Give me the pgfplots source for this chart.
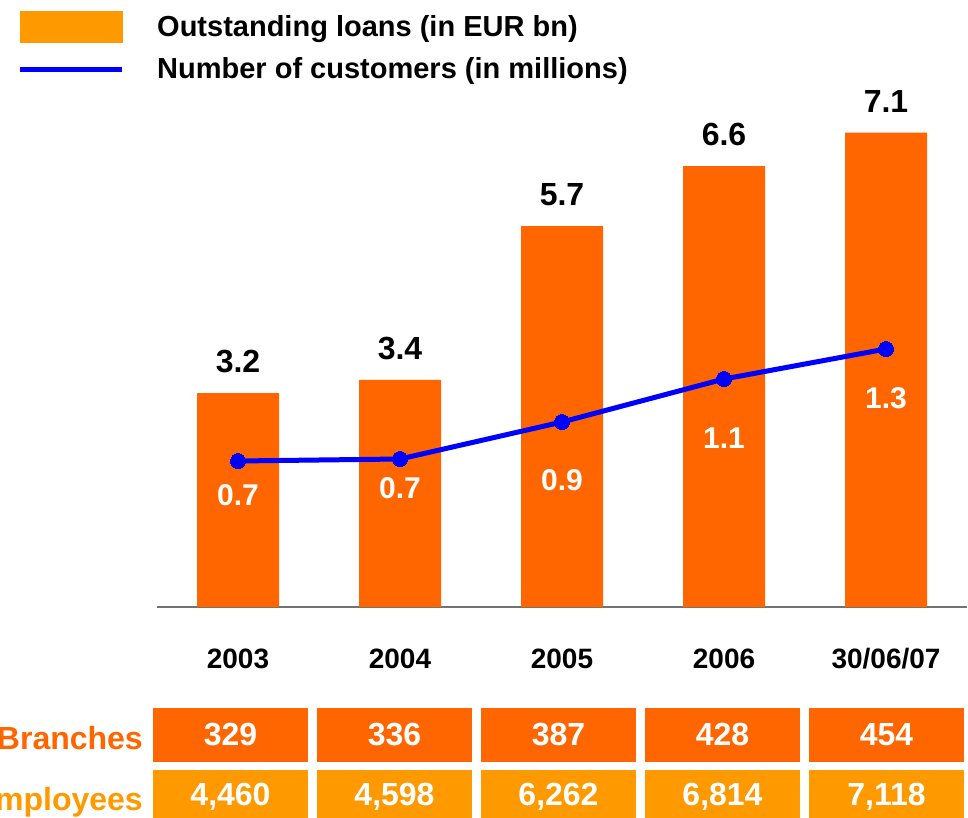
\documentclass[border=0pt]{standalone}
\usepackage{pgfplots}
\pgfplotsset{compat=1.18}
\usepackage{pgfplotstable}
\usepackage{fontspec}
\setmainfont{Liberation Sans}
\definecolor{barorange}{HTML}{FF6600}
\definecolor{lightorange}{HTML}{FF9900}
\definecolor{lineblue}{HTML}{0000FF}

\pgfplotstableread{
x loans
0 3.2
1 3.4
2 5.7
3 6.6
4 7.1
}\loans

\pgfplotstableread{
x cust label sh
0 0.73 0.7 34
1 0.74 0.7 29
2 0.925 0.9 58
3 1.14 1.1 59
4 1.29 1.3 49
}\cust

% table cells: x and y in pt from the axis origin
\pgfplotstableread{
x yb branches ye employees
73.5 -127.5 329 -189.5 4,460
237.5 -127.5 336 -189.5 4,598
401.5 -127.5 387 -189.5 6,262
565.5 -127.5 428 -189.5 6,814
729.5 -127.5 454 -189.5 7,118
}\tab

\pgfplotsset{common/.style={
  at={(0pt,0pt)}, anchor=south west,
  width=810pt, height=534.4pt, scale only axis,
  xmin=-0.5, xmax=4.5, clip=false}}

\begin{document}
\begin{tikzpicture}
\useasboundingbox (-157pt,-210pt) rectangle (811pt,607pt);

% bars
\begin{axis}[common, ymin=0, ymax=8,
  axis y line=none, axis x line*=bottom,
  x axis line style={draw=black!55, line width=1.5pt},
  xtick={0,1,2,3,4},
  xticklabels={2003,2004,2005,2006,30/06/07},
  major tick length=0pt, xtick style={draw=none},
  xticklabel style={font=\bfseries\fontsize{28}{28}\selectfont, anchor=base, yshift=-61pt, inner sep=0pt},
  ytick=\empty]
\addplot[ybar, bar width=82pt, fill=barorange, draw=none,
  nodes near coords={\pgfmathprintnumber[fixed,precision=1,fixed zerofill,assume math mode=true]{\pgfplotspointmeta}},
  point meta=y,
  every node near coord/.append style={anchor=south, inner sep=0pt, yshift=20pt, text=black, font=\bfseries\fontsize{32}{32}\selectfont}]
  table[x=x,y=loans]{\loans};
\end{axis}

% customers line
\begin{axis}[common, ymin=0, ymax=2.672, hide axis]
\addplot[lineblue, line width=5pt, mark=*, mark size=7.5pt,
  mark options={line width=0pt, fill=lineblue, draw=lineblue},
  visualization depends on={\thisrow{sh}\as\mysh},
  nodes near coords, point meta=explicit symbolic,
  every node near coord/.append style={anchor=center, inner sep=0pt, yshift={-1pt*\mysh}, text=white, font=\bfseries\fontsize{30}{30}\selectfont}]
  table[x=x,y=cust,meta=label]{\cust};
\end{axis}

% table rows
\begin{axis}[common, xmin=0, xmax=810, ymin=0, ymax=534.4, hide axis]
\addplot[draw=none, mark=none, nodes near coords, point meta=explicit symbolic,
  every node near coord/.append style={anchor=center, fill=barorange, text=white, minimum width=155.5pt, minimum height=54pt, inner sep=0pt, font=\bfseries\fontsize{32}{32}\selectfont}]
  table[x=x,y=yb,meta=branches]{\tab};
\addplot[draw=none, mark=none, nodes near coords, point meta=explicit symbolic,
  every node near coord/.append style={anchor=center, fill=lightorange, text=white, minimum width=155.5pt, minimum height=54pt, inner sep=0pt, font=\bfseries\fontsize{32}{32}\selectfont}]
  table[x=x,y=ye,meta=employees]{\tab};
\end{axis}

\node[anchor=base east, inner sep=0pt, text=barorange, font=\bfseries\fontsize{32}{32}\selectfont] at (-14pt,-142pt) {Branches};
\node[anchor=base east, inner sep=0pt, text=lightorange, font=\bfseries\fontsize{32}{32}\selectfont] at (-14pt,-203pt) {Employees};

% legend
\fill[lightorange] (-137pt,564pt) rectangle (-34pt,596pt);
\node[anchor=base west, inner sep=0pt, font=\bfseries\fontsize{29}{29}\selectfont] at (0pt,570pt) {Outstanding loans (in EUR bn)};
\draw[lineblue, line width=5pt] (-137pt,537.5pt) -- (-35pt,537.5pt);
\node[anchor=base west, inner sep=0pt, font=\bfseries\fontsize{29}{29}\selectfont] at (0pt,528pt) {Number of customers (in millions)};
\end{tikzpicture}
\end{document}
